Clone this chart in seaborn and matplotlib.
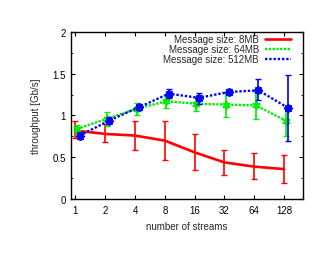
import numpy as np
import pandas as pd
import matplotlib
matplotlib.use("Agg")
import matplotlib.pyplot as plt
import seaborn as sns

# --- data ---
streams = [1, 2, 4, 8, 16, 32, 64, 128]

tp_8mb = [0.82, 0.78, 0.76, 0.70, 0.56, 0.44, 0.39, 0.36]
lo_8mb = [0.73, 0.68, 0.59, 0.47, 0.35, 0.29, 0.24, 0.19]
hi_8mb = [0.93, 0.90, 0.94, 0.93, 0.78, 0.59, 0.55, 0.53]

tp_64mb = [0.84, 0.96, 1.08, 1.17, 1.14, 1.13, 1.12, 0.94]
lo_64mb = [0.78, 0.88, 1.01, 1.09, 1.05, 0.98, 0.96, 0.76]
hi_64mb = [0.89, 1.04, 1.15, 1.24, 1.22, 1.27, 1.28, 1.10]

tp_512mb = [0.76, 0.94, 1.10, 1.26, 1.21, 1.28, 1.30, 1.09]
lo_512mb = [0.72, 0.91, 1.06, 1.21, 1.14, 1.25, 1.18, 0.70]
hi_512mb = [0.80, 0.98, 1.14, 1.31, 1.27, 1.31, 1.43, 1.48]

labels = ["Message size: 8MB", "Message size: 64MB", "Message size: 512MB"]

sns.set_style("ticks")
plt.rcParams['font.family'] = ['Liberation Sans', 'DejaVu Sans']

fig = plt.figure(figsize=(3.3, 2.55), dpi=100)
ax = fig.add_axes([0.215, 0.2145, 0.704, 0.6575])

series = [
    (tp_8mb, lo_8mb, hi_8mb, "#ff0000", "-", None, 1.0),
    (tp_64mb, lo_64mb, hi_64mb, "#00ee00", (0, (1, 0.6)), (6, 2, 0), 1.035),
    (tp_512mb, lo_512mb, hi_512mb, "#0000ff", (0, (1, 0.8)), (8, 2, 0), 1.1),
]

for (tp, lo, hi, col, ls, mk, shift), lab in zip(series, labels):
    x = np.array(streams) * shift
    df = pd.DataFrame({"x": x, "y": tp})
    sns.lineplot(data=df, x="x", y="y", ax=ax, color=col, linestyle=ls,
                 linewidth=1.9 if ls == "-" else 1.7, label=lab,
                 marker=mk, markersize=6, markeredgewidth=1.3,
                 markeredgecolor=col)
    yerr = [np.array(tp) - np.array(lo), np.array(hi) - np.array(tp)]
    ax.errorbar(x, tp, yerr=yerr, fmt="none", ecolor=col, elinewidth=1.2,
                capsize=2, capthick=1.0)

ax.set_xscale("log", base=2)
ax.set_xlim(0.9, 200)
ax.set_ylim(0, 2)
ax.set_xticks(streams)
ax.set_xticklabels([str(s) for s in streams])
ax.set_xticks([], minor=True)
ax.set_yticks([0, 0.5, 1, 1.5, 2])
ax.set_yticks([0.25, 0.75, 1.25, 1.75], minor=True)
ax.set_yticklabels(["0", "0.5", "1", "1.5", "2"])
ax.tick_params(direction="in", top=True, right=True, length=3, width=0.8,
               labelsize=7, colors="black")
ax.tick_params(axis="y", which="minor", direction="in", right=True,
               length=1.6, width=0.7)
ax.tick_params(axis="y", pad=3.6)
ax.tick_params(axis="x", pad=4.2)
for sp in ax.spines.values():
    sp.set_linewidth(1.0)
    sp.set_color("black")

ax.set_xlabel("number of streams", fontsize=7, labelpad=4)
ax.set_ylabel("throughput [Gb/s]", fontsize=7, labelpad=8)

leg = ax.legend(loc="upper right", bbox_to_anchor=(0.947, 0.985),
                frameon=False, markerfirst=False, fontsize=7,
                handlelength=2.7, handletextpad=0.6, labelspacing=0.0,
                borderpad=0.0, borderaxespad=0.0)
for h in leg.legend_handles:
    h.set_marker("")
for t in leg.get_texts():
    t.set_ha("right")
leg._legend_box.align = "right"

fig.savefig("out.png", dpi=100)
